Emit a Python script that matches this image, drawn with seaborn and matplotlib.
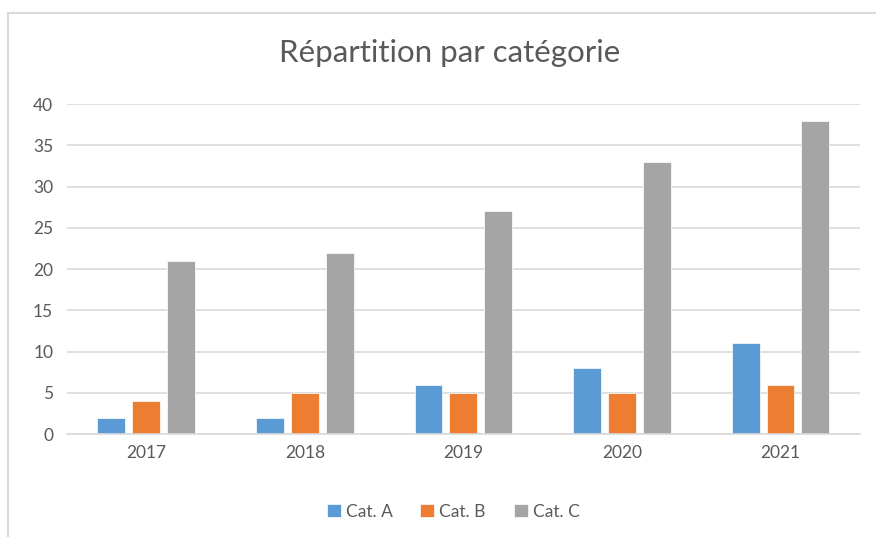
import matplotlib
matplotlib.use("Agg")
import matplotlib.pyplot as plt
import pandas as pd
import seaborn as sns
from matplotlib.patches import Rectangle

# Data
years = ["2017", "2018", "2019", "2020", "2021"]
cat_a = [2, 2, 6, 8, 11]
cat_b = [4, 5, 5, 5, 6]
cat_c = [21, 22, 27, 33, 38]
series_names = ["Cat. A", "Cat. B", "Cat. C"]
colors = ["#5B9BD5", "#ED7D31", "#A5A5A5"]

df = pd.DataFrame({"year": years, "Cat. A": cat_a, "Cat. B": cat_b, "Cat. C": cat_c})
long_df = df.melt(id_vars="year", var_name="cat", value_name="value")

sns.set_style("white")
plt.rcParams["font.family"] = ["Lato", "DejaVu Sans"]

fig = plt.figure(figsize=(8.76, 5.37), dpi=100)
ax = fig.add_axes([0.0765, 0.1918, 0.905, 0.6145])

sns.barplot(
    data=long_df, x="year", y="value", hue="cat",
    hue_order=series_names, palette=colors,
    width=0.66, gap=0.2, ax=ax, errorbar=None,
    edgecolor="white", linewidth=0.5, saturation=1,
)

ax.set_ylim(0, 40)
ax.set_yticks(range(0, 41, 5))
ax.grid(True, axis="y", color="#D9D9D9", linewidth=1.2)
ax.set_axisbelow(True)
ax.set_xlabel("")
ax.set_ylabel("")
for side in ["top", "right", "left"]:
    ax.spines[side].set_visible(False)
ax.spines["bottom"].set_color("#D9D9D9")
ax.spines["bottom"].set_linewidth(1.2)
ax.tick_params(axis="both", length=0, labelsize=12.5, labelcolor="#595959", pad=10)
ax.tick_params(axis="x", pad=8)

ax.set_title("Répartition par catégorie", fontsize=22.5, color="#595959",
             pad=30, x=0.483)

ax.legend(
    loc="center", bbox_to_anchor=(0.487, -0.235), ncol=3, frameon=False,
    fontsize=12.5, handlelength=0.8, handleheight=0.8, handletextpad=0.3,
    columnspacing=1.6, labelcolor="#595959",
)

# outer chart frame
fig.patches.append(Rectangle((8 / 876, -0.05), 1.0, 1 - 13 / 537 + 0.05,
                             transform=fig.transFigure, fill=False,
                             edgecolor="#D9D9D9", linewidth=1.5))

fig.savefig("out.png", dpi=100, facecolor="white")
